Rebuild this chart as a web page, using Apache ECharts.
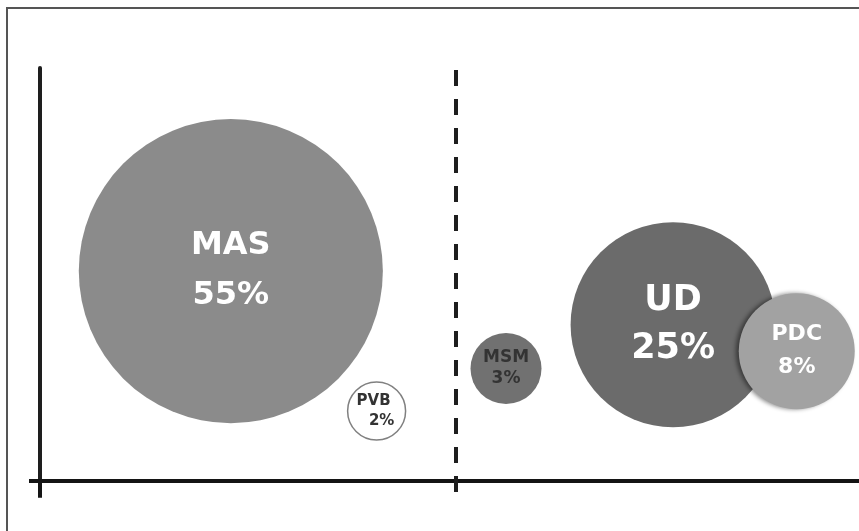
<!DOCTYPE html>
<html>
<head>
<meta charset="utf-8">
<script src="https://cdn.jsdelivr.net/npm/echarts@6/dist/echarts.min.js"></script>
<style>
html,body{margin:0;padding:0;background:#fff;}
#c{width:859px;height:531px;}
</style>
</head>
<body>
<div id="c"></div>
<script>
// ---- data ----
const names  = ['MAS', 'PVB', 'MSM', 'UD', 'PDC'];
const shares = [55, 2, 3, 25, 8];            // percent
const xPos   = [23.3, 41.1, 56.9, 77.3, 92.4];
const yPos   = [50.8, 16.9, 27.2, 37.8, 31.4];
const divider = 50.8;                         // dashed separator position

const fills   = ['#8b8b8b', '#ffffff', '#717171', '#6b6b6b', '#a2a2a2'];
const txtCol  = ['#ffffff', '#333333', '#333333', '#ffffff', '#ffffff'];
const fSizes  = [32, 15, 17, 35, 22];
const lHeights= [50, 20, 21, 48, 33];

const FONT = '"DejaVu Sans", sans-serif';

const data = names.map((n, i) => {
  const item = {
    name: n,
    value: [xPos[i], yPos[i], shares[i]],
    itemStyle: { color: fills[i], opacity: 1 },
    label: {
      show: true,
      position: 'inside',
      formatter: '{a|' + n + '}\n{b|' + shares[i] + '%}',
      rich: {
        a: { color: txtCol[i], fontSize: fSizes[i], lineHeight: lHeights[i], fontWeight: 'bold', fontFamily: FONT, align: 'center' },
        b: { color: txtCol[i], fontSize: fSizes[i], lineHeight: lHeights[i], fontWeight: 'bold', fontFamily: FONT, align: 'center' }
      }
    }
  };
  if (n === 'PVB') {
    item.itemStyle = { color: '#ffffff', borderColor: '#808080', borderWidth: 1.5, opacity: 1 };
    item.label.rich.a.padding = [0, 6, 0, 0];
    item.label.rich.b.padding = [0, 0, 0, 10];
  }
  if (n === 'PDC') {
    item.itemStyle = { color: fills[i], opacity: 1, shadowBlur: 4, shadowColor: 'rgba(0,0,0,0.45)', shadowOffsetX: -3 };
  }
  return item;
});

const chart = echarts.init(document.getElementById('c'), null, { renderer: 'canvas' });
chart.setOption({
  backgroundColor: '#ffffff',
  animation: false,
  graphic: [{
    type: 'rect',
    shape: { x: 7, y: 8, width: 900, height: 600 },
    style: { fill: 'none', stroke: '#555', lineWidth: 2 },
    silent: true,
    z: -10
  }],
  grid: { left: 40, right: 0, top: 68, bottom: 39 },
  xAxis: {
    type: 'value', min: 0, max: 100,
    axisLine: { show: true, onZero: true, lineStyle: { color: '#141414', width: 4 } },
    axisTick: { show: true, customValues: [0], length: 17, lineStyle: { color: '#141414', width: 4 } },
    axisLabel: { show: false },
    splitLine: { show: false }
  },
  yAxis: {
    type: 'value', min: -2.7, max: 100,
    axisLine: { show: true, onZero: false, lineStyle: { color: '#1e1e1e', width: 4 } },
    axisTick: { show: true, customValues: [0], length: 11, lineStyle: { color: '#141414', width: 4 } },
    axisLabel: { show: false },
    splitLine: { show: false }
  },
  series: [{
    type: 'scatter',
    data: data,
    symbol: 'circle',
    symbolSize: v => 41 * Math.sqrt(v[2]),
    clip: false,
    silent: true,
    itemStyle: { opacity: 1 },
    markLine: {
      silent: true,
      symbol: ['none', 'none'],
      label: { show: false },
      lineStyle: { color: '#1e1e1e', width: 4, type: [16, 13] },
      data: [[{ coord: [divider, 99.5] }, { coord: [divider, -2.7] }]]
    }
  }]
});
</script>
</body>
</html>
